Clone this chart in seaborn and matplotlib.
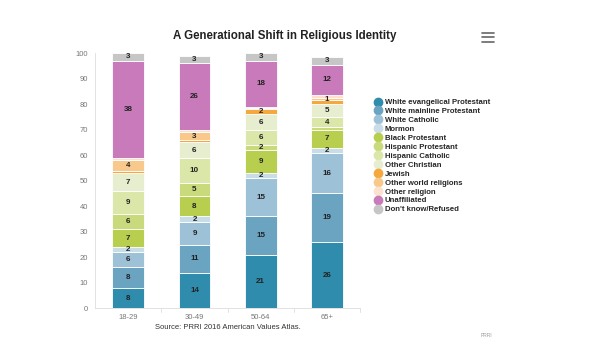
import numpy as np
import pandas as pd
import matplotlib
matplotlib.use("Agg")
import matplotlib.pyplot as plt
from matplotlib.lines import Line2D
import seaborn as sns

# --- DATA ---
ages = ["18-29", "30-49", "50-64", "65+"]
groups = [
    "White evangelical Protestant", "White mainline Protestant", "White Catholic",
    "Mormon", "Black Protestant", "Hispanic Protestant", "Hispanic Catholic",
    "Other Christian", "Jewish", "Other world religions", "Other religion",
    "Unaffiliated", "Don't know/Refused",
]
white_evangelical = [8, 14, 21, 26]
white_mainline = [8, 11, 15, 19]
white_catholic = [6, 9, 15, 16]
mormon = [2, 2, 2, 2]
black_protestant = [7, 8, 9, 7]
hispanic_protestant = [6, 5, 2, 1]
hispanic_catholic = [9, 10, 6, 4]
other_christian = [7, 6, 6, 5]
jewish = [1, 1, 2, 1.5]
other_world = [4, 3, 0.5, 1]
other_religion = [1, 1, 0.5, 1]
unaffiliated = [38, 26, 18, 12]
dont_know = [3, 3, 3, 3]

series = [white_evangelical, white_mainline, white_catholic, mormon,
          black_protestant, hispanic_protestant, hispanic_catholic,
          other_christian, jewish, other_world, other_religion,
          unaffiliated, dont_know]

colors = ["#2f8cad", "#6aa4c1", "#9dc1d6", "#c9dde9", "#b8ce4f", "#c9da7c",
          "#dbe6a9", "#e7eecf", "#f4a83d", "#f8c98b", "#fbe1cf", "#c87aba",
          "#c6c6c6"]

# small segments that still carry a label in the original
extra_labels = [("65+", "Other world religions")]

df = pd.DataFrame({g: s for g, s in zip(groups, series)}, index=ages)

sns.set_style("white")
plt.rcParams["font.family"] = ["Liberation Sans", "DejaVu Sans"]

fig = plt.figure(figsize=(5.95, 3.64), dpi=100)
ax = fig.add_axes([0.160, 0.153, 0.445, 0.701])

bottom = np.zeros(len(ages))
for g, c in zip(groups, colors):
    vals = df[g].values
    sns.barplot(x=ages, y=vals, bottom=bottom, color=c, width=0.48, saturation=1,
                edgecolor="white", linewidth=0.6, ax=ax)
    for i, v in enumerate(vals):
        if v >= 2 or (ages[i], g) in extra_labels:
            ax.text(i, bottom[i] + v / 2, f"{v:g}", ha="center", va="center",
                    fontsize=5.8, fontweight="bold", color="#222222")
    bottom = bottom + vals

ax.set_ylim(0, 100)
ax.set_xlim(-0.5, 3.5)
ax.set_yticks(range(0, 101, 10))
ax.tick_params(axis="y", labelsize=5.5, labelcolor="#777777", length=3, color="#dddddd", pad=2)
ax.tick_params(axis="x", labelsize=5.5, labelcolor="#777777", length=0, pad=4)
for s in ["top", "right"]:
    ax.spines[s].set_visible(False)
for s in ["left", "bottom"]:
    ax.spines[s].set_color("#dddddd")
    ax.spines[s].set_linewidth(0.6)
ax.set_xlabel("")
for xb in [0.5, 1.5, 2.5, 3.5]:
    ax.plot([xb, xb], [0, -1.5], color="#dddddd", lw=0.6, clip_on=False)

fig.text(0.478, 0.902, "A Generational Shift in Religious Identity", ha="center",
         va="center", fontsize=8.3, fontweight="bold", color="#222222")

# menu icon
for dy in [0, 0.013, 0.026]:
    fig.add_artist(Line2D([0.810, 0.830], [0.884 + dy] * 2, color="#666666", lw=1.2))

handles = [Line2D([], [], marker="o", ls="", markersize=6, markerfacecolor=c,
                  markeredgecolor=c) for c in colors]
fig.legend(handles, groups, loc="upper left", bbox_to_anchor=(0.624, 0.737),
           frameon=False, handletextpad=0.35, labelspacing=0.19,
           handlelength=1.0, borderaxespad=0.0,
           prop={"weight": "bold", "size": 5.6})

fig.text(0.383, 0.100, "Source: PRRI 2016 American Values Atlas.", ha="center",
         va="center", fontsize=5.5, color="#333333")
fig.text(0.818, 0.078, "PRRI", ha="center", va="center", fontsize=3.5, color="#999999")

fig.savefig("out.png", dpi=100)
